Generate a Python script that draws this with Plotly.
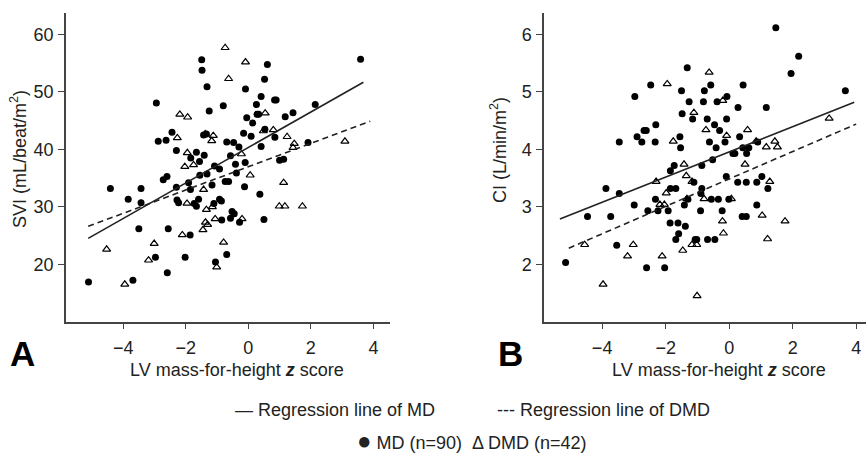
import plotly.graph_objects as go

# ---------------- Data ----------------
# Panel A: SVI vs LV mass-for-height z score
a_md_x = [-4.41, -3.84, -3.43, -3.43, -2.94, -2.88, -2.63, -2.44, -2.72, -2.60,
          -2.30, -2.30, -2.28, -2.23, -1.91, -1.85, -1.84, -1.66, -1.73, -1.66,
          -1.59, -1.56, -1.55, -1.49, -1.48, -1.41, -1.43, -1.34, -1.32, -1.32,
          -1.25, -1.16, -1.10, -1.08, -0.92, -0.86, -0.92, -0.80, -0.69, -0.57,
          -0.47, -0.74, -0.63, -0.41, -0.38, -0.30, -0.15, -0.10, -0.09, -0.05,
          -0.12, 0.09, 0.14, 0.26, 0.28, 0.33, 0.41, 0.41, 0.37, 0.50,
          0.52, 0.53, 0.61, 0.84, 0.89, 0.85, 1.00, 1.13, 1.18, 1.43,
          1.91, 2.14, 3.59, -3.50, -2.56, -1.86, -2.97, -2.02, -1.05, -0.69,
          -2.59, -5.11, -3.69, -0.85, -0.57, -0.52, -0.45, -0.28]
a_md_y = [33.2, 31.3, 33.2, 30.7, 48.1, 41.4, 41.6, 43.0, 34.7, 35.3,
          39.8, 33.4, 31.2, 30.7, 34.2, 33.0, 38.5, 39.5, 30.6, 30.1,
          31.3, 37.9, 35.5, 55.6, 53.8, 39.0, 42.5, 42.7, 50.9, 35.7,
          46.7, 33.8, 30.6, 37.1, 31.3, 31.0, 36.6, 47.6, 41.3, 38.9,
          41.2, 34.4, 34.4, 37.4, 35.9, 40.4, 42.8, 37.7, 50.5, 45.5,
          33.5, 42.3, 44.6, 47.8, 46.1, 46.1, 49.2, 40.5, 32.2, 27.8,
          52.2, 43.5, 54.8, 48.6, 48.6, 42.1, 38.1, 38.3, 45.7, 46.4,
          41.2, 47.8, 55.7, 26.2, 26.2, 25.1, 21.2, 21.2, 20.4, 21.7,
          18.5, 16.9, 17.2, 27.7, 28.0, 29.2, 28.8, 27.3]

a_dmd_x = [-0.74, -0.09, -0.63, -2.19, -1.94, 0.54, -2.27, -1.38, -1.12, -1.17,
           0.80, 0.48, 1.24, 1.47, 1.43, 3.09, -1.95, -0.22, -2.03, -1.75,
           0.06, -1.43, 1.13, -1.96, -1.34, -1.15, 0.99, 1.17, 1.73, -1.37,
           -1.30, -1.06, -0.20, -1.45, -2.11, -0.79, -3.01, -4.53, -3.19, -1.01,
           -3.95]
a_dmd_y = [57.7, 55.2, 52.3, 46.1, 45.6, 46.3, 42.0, 42.7, 42.4, 41.5,
           43.4, 43.2, 42.2, 41.0, 40.3, 41.4, 39.4, 39.2, 37.0, 37.3,
           35.5, 33.0, 34.2, 30.6, 29.5, 30.0, 30.1, 30.1, 30.1, 27.3,
           26.9, 27.9, 27.9, 26.0, 25.1, 23.8, 23.6, 22.6, 20.7, 19.5,
           16.5]

a_reg_md_x = [-5.12, 3.68]
a_reg_md_y = [24.5, 51.7]
a_reg_dmd_x = [-5.12, 3.90]
a_reg_dmd_y = [26.6, 44.9]

# Panel B: CI vs LV mass-for-height z score
b_md_x = [1.47, 2.19, 1.95, 3.66, -1.32, -2.47, -1.50, -0.78, -0.58, 0.44,
          -2.97, -1.26, -0.81, -0.38, -0.07, 0.28, 1.17, -1.48, -1.15, -0.69,
          -0.08, -0.46, -0.30, -2.90, -2.68, -2.61, -2.31, -2.75, -2.33, -3.46,
          -1.55, -1.53, -0.62, -0.41, -0.13, 0.33, 0.43, 0.62, 0.55, 0.12,
          0.18, 0.90, -0.52, -1.73, -0.86, -1.85, -0.09, 1.03, -1.85, -1.68,
          -3.88, -3.46, -1.11, -0.86, 0.27, 0.54, 0.87, 1.22, -2.32, -1.30,
          -0.89, -0.56, -0.34, -0.01, -2.99, -1.41, 0.87, -2.56, -2.24, -1.92,
          -0.90, -0.22, -4.46, -3.73, 0.41, 0.54, -1.86, -1.61, -1.59, -1.38,
          -1.68, -1.07, -1.02, -0.68, -0.45, -3.54, -5.15, -2.60, -2.03]
b_md_y = [6.12, 5.62, 5.32, 5.02, 5.42, 5.12, 5.02, 5.02, 5.12, 5.12,
          4.92, 4.83, 4.83, 4.83, 4.92, 4.73, 4.73, 4.62, 4.53, 4.53,
          4.53, 4.43, 4.33, 4.22, 4.33, 4.33, 4.43, 4.13, 4.13, 4.13,
          4.22, 4.03, 4.13, 4.03, 4.13, 4.22, 4.03, 4.03, 3.93, 3.93,
          3.93, 4.13, 3.82, 3.72, 3.72, 3.63, 3.53, 3.53, 3.32, 3.32,
          3.32, 3.23, 3.43, 3.32, 3.43, 3.43, 3.43, 3.32, 3.13, 3.13,
          3.23, 3.13, 3.13, 3.13, 3.03, 3.03, 3.03, 2.93, 2.93, 2.93,
          2.93, 2.93, 2.83, 2.83, 2.83, 2.83, 2.72, 2.72, 2.53, 2.66,
          2.43, 2.43, 2.43, 2.43, 2.43, 2.33, 2.03, 1.94, 1.94]

b_dmd_x = [-0.63, -1.95, -0.20, -1.11, 3.15, -0.73, 0.58, -0.08, -1.76, 0.85,
           1.44, 1.17, 1.52, 0.50, -1.42, -1.35, -2.30, -1.17, 1.28, -1.98,
           -1.33, -0.79, 0.07, -2.18, -2.04, -0.21, 1.04, 1.76, -0.18, 1.21,
           -4.55, -3.02, -1.17, -1.02, -1.46, -3.20, -2.11, -3.97, -1.01]
b_dmd_y = [5.34, 5.14, 4.85, 4.64, 4.54, 4.34, 4.34, 4.24, 4.14, 4.14,
           4.14, 4.04, 4.04, 3.74, 3.74, 3.54, 3.44, 3.44, 3.44, 3.24,
           3.14, 3.14, 3.14, 3.04, 3.04, 2.75, 2.85, 2.75, 2.54, 2.44,
           2.34, 2.34, 2.34, 2.34, 2.24, 2.14, 2.14, 1.65, 1.45]

b_reg_md_x = [-5.33, 3.94]
b_reg_md_y = [2.79, 4.82]
b_reg_dmd_x = [-5.05, 4.00]
b_reg_dmd_y = [2.28, 4.44]

x_ticks = [-4, -2, 0, 2, 4]
a_y_ticks = [20, 30, 40, 50, 60]
b_y_ticks = [2, 3, 4, 5, 6]

# ---------------- Figure ----------------
FONT = "Liberation Sans, Arial, sans-serif"
INK = "#222222"
AXIS = "#444444"

fig = go.Figure()

def add_panel(xa, ya, md_x, md_y, dmd_x, dmd_y, rmx, rmy, rdx, rdy):
    fig.add_trace(go.Scatter(x=md_x, y=md_y, mode="markers", xaxis=xa, yaxis=ya,
                             marker=dict(symbol="circle", size=7, color="black"),
                             showlegend=False))
    fig.add_trace(go.Scatter(x=dmd_x, y=dmd_y, mode="markers", xaxis=xa, yaxis=ya,
                             marker=dict(symbol="triangle-up-open", size=7, color="black",
                                         line=dict(width=1.2, color="black")),
                             showlegend=False))
    fig.add_trace(go.Scatter(x=rmx, y=rmy, mode="lines", xaxis=xa, yaxis=ya,
                             line=dict(color="#222", width=1.6), showlegend=False))
    fig.add_trace(go.Scatter(x=rdx, y=rdy, mode="lines", xaxis=xa, yaxis=ya,
                             line=dict(color="#222", width=1.6, dash="6px,4px"),
                             showlegend=False))

add_panel("x", "y", a_md_x, a_md_y, a_dmd_x, a_dmd_y,
          a_reg_md_x, a_reg_md_y, a_reg_dmd_x, a_reg_dmd_y)
add_panel("x2", "y2", b_md_x, b_md_y, b_dmd_x, b_dmd_y,
          b_reg_md_x, b_reg_md_y, b_reg_dmd_x, b_reg_dmd_y)

ax_common = dict(showline=True, linecolor=AXIS, linewidth=1.5, showgrid=False,
                 zeroline=False, ticks="outside", ticklen=6, tickwidth=1.2,
                 tickcolor=AXIS, tickfont=dict(family=FONT, size=18, color=INK))

fig.update_layout(
    width=866, height=455,
    margin=dict(l=0, r=0, t=0, b=0),
    paper_bgcolor="white", plot_bgcolor="white",
    xaxis=dict(domain=[0.0762, 0.4503], range=[-5.83, 4.53], tickvals=x_ticks,
               anchor="y", ticklabelstandoff=3, **ax_common),
    yaxis=dict(domain=[0.293, 0.9708], range=[10.0, 63.7], tickvals=a_y_ticks,
               anchor="x", ticklabelstandoff=1, **ax_common),
    xaxis2=dict(domain=[0.6282, 1.0], range=[-5.83, 4.31], tickvals=x_ticks,
                anchor="y2", ticklabelstandoff=3, **ax_common),
    yaxis2=dict(domain=[0.293, 0.9708], range=[1.0, 6.37], tickvals=b_y_ticks,
                anchor="x2", ticklabelstandoff=1, **ax_common),
    showlegend=False,
)

def ann(text, x, y, size=18, bold=False, angle=0, xanchor="center"):
    fig.add_annotation(text=("<b>%s</b>" % text) if bold else text,
                       x=x / 866, y=1 - y / 455, xref="paper", yref="paper",
                       showarrow=False, textangle=angle, xanchor=xanchor, yanchor="middle",
                       font=dict(family=FONT, size=size, color=INK if not bold else "black"))

ann("LV mass-for-height <b><i>z</i></b> score", 237, 370)
ann("LV mass-for-height <b><i>z</i></b> score", 719, 370)
ann("SVI (mL/beat/m<sup>2</sup>)", 18, 159, angle=-90)
ann("CI (L/min/m<sup>2</sup>)", 499, 150, angle=-90)
ann("A", 22, 353, size=35, bold=True)
ann("B", 510, 353, size=35, bold=True)
ann("— Regression line of MD", 233, 410, xanchor="left")
ann("--- Regression line of DMD", 495, 410, xanchor="left")
ann('<span style="font-size:24px">●</span> MD (n=90)  Δ DMD (n=42)', 472, 440)

fig.write_html("out.html", config={"displayModeBar": False},
               post_script="document.body.style.margin='0px';")
